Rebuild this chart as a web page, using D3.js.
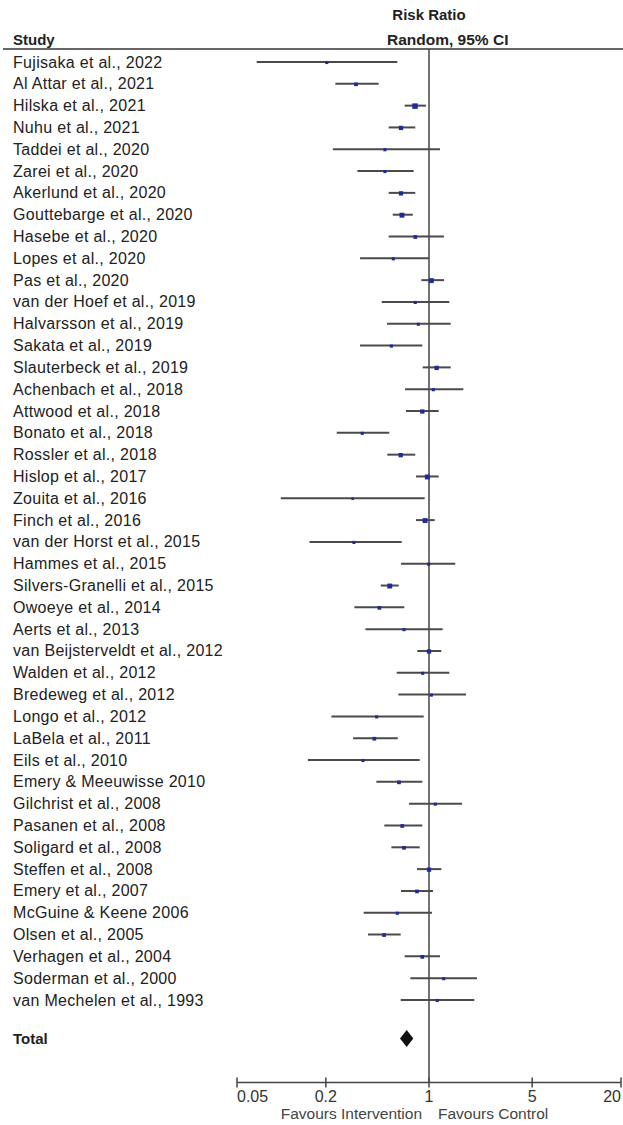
<!DOCTYPE html>
<html>
<head>
<meta charset="utf-8">
<script src="https://cdn.jsdelivr.net/npm/d3@7"></script>
<style>
  html, body { margin: 0; padding: 0; background: #fff; }
  svg { display: block; font-family: "Liberation Sans", Arial, sans-serif; }
</style>
</head>
<body>
<svg id="chart" width="623" height="1125"></svg>
<script>
const studies = [
  "Fujisaka et al., 2022", "Al Attar et al., 2021", "Hilska et al., 2021", "Nuhu et al., 2021",
  "Taddei et al., 2020", "Zarei et al., 2020", "Akerlund et al., 2020", "Gouttebarge et al., 2020",
  "Hasebe et al., 2020", "Lopes et al., 2020", "Pas et al., 2020", "van der Hoef et al., 2019",
  "Halvarsson et al., 2019", "Sakata et al., 2019", "Slauterbeck et al., 2019", "Achenbach et al., 2018",
  "Attwood et al., 2018", "Bonato et al., 2018", "Rossler et al., 2018", "Hislop et al., 2017",
  "Zouita et al., 2016", "Finch et al., 2016", "van der Horst et al., 2015", "Hammes et al., 2015",
  "Silvers-Granelli et al., 2015", "Owoeye et al., 2014", "Aerts et al., 2013", "van Beijsterveldt et al., 2012",
  "Walden et al., 2012", "Bredeweg et al., 2012", "Longo et al., 2012", "LaBela et al., 2011",
  "Eils et al., 2010", "Emery & Meeuwisse 2010", "Gilchrist et al., 2008", "Pasanen et al., 2008",
  "Soligard et al., 2008", "Steffen et al., 2008", "Emery et al., 2007", "McGuine & Keene 2006",
  "Olsen et al., 2005", "Verhagen et al., 2004", "Soderman et al., 2000", "van Mechelen et al., 1993"
];
const rr = [
  0.203, 0.320, 0.804, 0.646, 0.503, 0.503, 0.646, 0.656, 0.807, 0.573, 1.037, 0.807,
  0.847, 0.556, 1.127, 1.070, 0.901, 0.353, 0.643, 0.974, 0.304, 0.940, 0.310, 0.995,
  0.542, 0.461, 0.677, 1.000, 0.906, 1.037, 0.442, 0.426, 0.357, 0.626, 1.103, 0.659,
  0.677, 1.000, 0.829, 0.610, 0.496, 0.901, 1.258, 1.138
];
const ciLow = [
  0.068, 0.232, 0.684, 0.533, 0.223, 0.327, 0.533, 0.568, 0.533, 0.341, 0.887, 0.478,
  0.519, 0.341, 0.906, 0.688, 0.698, 0.237, 0.522, 0.817, 0.099, 0.817, 0.155, 0.646,
  0.471, 0.312, 0.371, 0.833, 0.604, 0.620, 0.218, 0.306, 0.151, 0.440, 0.732, 0.498,
  0.556, 0.829, 0.646, 0.361, 0.386, 0.684, 0.747, 0.643
];
const ciHigh = [
  0.610, 0.456, 0.954, 0.807, 1.187, 0.787, 0.807, 0.776, 1.264, 1.000, 1.264, 1.373,
  1.403, 0.901, 1.403, 1.708, 1.163, 0.538, 0.807, 1.163, 0.935, 1.093, 0.653, 1.507,
  0.623, 0.680, 1.238, 1.211, 1.373, 1.780, 0.921, 0.614, 0.865, 0.901, 1.673, 0.901,
  0.865, 1.211, 1.064, 1.048, 0.643, 1.187, 2.115, 2.030
];
// relative study weight (drives marker size)
const weights = [
  2, 3, 6, 4, 2, 2, 4, 5, 3, 2, 5, 2,
  2, 2, 4, 2, 4, 2, 4, 5, 1, 5, 2, 2,
  5, 3, 2, 4, 2, 2, 2, 3, 2, 3, 2, 3,
  3, 4, 3, 2, 3, 3, 2, 2
];
const total = { rr: 0.706, lo: 0.636, hi: 0.783 };
const tickValues = [0.05, 0.2, 1, 5, 20];
const tickLabels = ["0.05", "0.2", "1", "5", "20"];
const favours = ["Favours Intervention", "Favours Control"];

const svg = d3.select("#chart");

const x = d3.scaleLog().domain([0.05, 20]).range([237, 621]);
const y = d3.scalePoint().domain(studies).range([62, 1000]);
const size = d3.scaleLinear().domain([1, 6]).range([2.5, 5.5]);
const totalY = 1038.5;
const axisY = 1082.5;
const headerLineY = 49;

// header
svg.append("text").attr("x", 13).attr("y", 45)
  .attr("font-size", 15).attr("font-weight", "bold").attr("fill", "#222")
  .text("Study");
svg.append("text").attr("x", 429).attr("y", 20).attr("text-anchor", "middle")
  .attr("font-size", 15).attr("font-weight", "bold").attr("fill", "#222")
  .text("Risk Ratio");
svg.append("text").attr("x", 387).attr("y", 45)
  .attr("font-size", 15.5).attr("font-weight", "bold").attr("fill", "#222")
  .text("Random, 95% CI");
svg.append("line").attr("x1", 3).attr("x2", 623)
  .attr("y1", headerLineY).attr("y2", headerLineY)
  .attr("stroke", "#333").attr("stroke-width", 1.5);

// null line
svg.append("line").attr("x1", x(1)).attr("x2", x(1))
  .attr("y1", headerLineY).attr("y2", axisY)
  .attr("stroke", "#444").attr("stroke-width", 1.5);

// study labels
svg.append("g").selectAll("text").data(studies).join("text")
  .attr("x", 13).attr("y", d => y(d) + 5.5)
  .attr("font-size", 16).attr("letter-spacing", 0.3).attr("fill", "#222")
  .text(d => d);

// CI lines
const rows = studies.map((s, i) => ({ s, rr: rr[i], lo: ciLow[i], hi: ciHigh[i], w: weights[i] }));
svg.append("g").selectAll("line").data(rows).join("line")
  .attr("x1", d => x(d.lo)).attr("x2", d => x(d.hi))
  .attr("y1", d => y(d.s)).attr("y2", d => y(d.s))
  .attr("stroke", "#4a4a4a").attr("stroke-width", 2);

// point estimates
svg.append("g").selectAll("rect").data(rows).join("rect")
  .attr("x", d => x(d.rr) - size(d.w) / 2)
  .attr("y", d => y(d.s) - size(d.w) / 2 + 0.5)
  .attr("width", d => size(d.w)).attr("height", d => size(d.w))
  .attr("fill", "#1f2a9c");

// total
svg.append("text").attr("x", 13).attr("y", totalY + 5.5)
  .attr("font-size", 15).attr("font-weight", "bold").attr("fill", "#222")
  .text("Total");
svg.append("path")
  .attr("d", `M${x(total.lo)},${totalY} L${x(total.rr)},${totalY - 8.5} L${x(total.hi)},${totalY} L${x(total.rr)},${totalY + 8.5} Z`)
  .attr("fill", "#111");

// axis
const axisG = svg.append("g");
axisG.append("line").attr("x1", x(0.05)).attr("x2", x(20))
  .attr("y1", axisY).attr("y2", axisY)
  .attr("stroke", "#444").attr("stroke-width", 1.5);
axisG.selectAll("line.tick").data(tickValues).join("line").attr("class", "tick")
  .attr("x1", d => x(d)).attr("x2", d => x(d))
  .attr("y1", axisY - 5).attr("y2", axisY + 5)
  .attr("stroke", "#444").attr("stroke-width", 1.5);
axisG.selectAll("text.tl").data(tickValues).join("text").attr("class", "tl")
  .attr("x", d => x(d))
  .attr("y", axisY + 19)
  .attr("text-anchor", (d, i) => i === 0 ? "start" : (i === tickValues.length - 1 ? "end" : "middle"))
  .attr("font-size", 16).attr("fill", "#333")
  .text((d, i) => tickLabels[i]);

svg.append("text").attr("x", x(1) - 7).attr("y", axisY + 36)
  .attr("text-anchor", "end").attr("font-size", 15.5).attr("fill", "#444")
  .text(favours[0]);
svg.append("text").attr("x", x(1) + 9).attr("y", axisY + 36)
  .attr("text-anchor", "start").attr("font-size", 15.5).attr("fill", "#444")
  .text(favours[1]);
</script>
</body>
</html>
